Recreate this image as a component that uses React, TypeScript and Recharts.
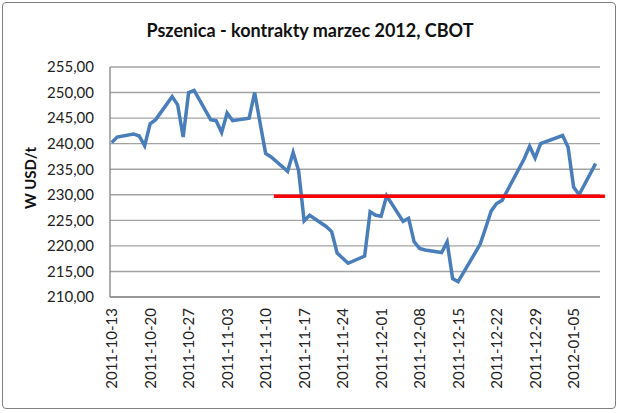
import { LineChart, Line, XAxis, YAxis, CartesianGrid, ReferenceLine } from "recharts";

// trading days and settlement prices, USD/t
const dates = [
  "2011-10-13", "2011-10-14", "2011-10-17", "2011-10-18", "2011-10-19", "2011-10-20", "2011-10-21",
  "2011-10-24", "2011-10-25", "2011-10-26", "2011-10-27", "2011-10-28", "2011-10-31",
  "2011-11-01", "2011-11-02", "2011-11-03", "2011-11-04", "2011-11-07", "2011-11-08", "2011-11-09",
  "2011-11-10", "2011-11-11", "2011-11-14", "2011-11-15", "2011-11-16", "2011-11-17", "2011-11-18",
  "2011-11-21", "2011-11-22", "2011-11-23", "2011-11-25", "2011-11-28", "2011-11-29", "2011-11-30",
  "2011-12-01", "2011-12-02", "2011-12-05", "2011-12-06", "2011-12-07", "2011-12-08", "2011-12-09",
  "2011-12-12", "2011-12-13", "2011-12-14", "2011-12-15", "2011-12-16", "2011-12-19", "2011-12-20",
  "2011-12-21", "2011-12-22", "2011-12-23", "2011-12-27", "2011-12-28", "2011-12-29", "2011-12-30",
  "2012-01-03", "2012-01-04", "2012-01-05", "2012-01-06", "2012-01-09",
];

const prices = [
  240.2, 241.3, 241.9, 241.5, 239.6, 243.9, 244.7,
  249.2, 247.6, 241.3, 250.0, 250.4, 244.7,
  244.5, 242.2, 246.0, 244.5, 245.0, 250.0, 244.0,
  238.1, 237.4, 234.6, 238.3, 234.7, 224.9, 226.0,
  223.8, 222.8, 218.6, 216.6, 218.0, 226.7, 226.0,
  225.8, 229.8, 224.8, 225.4, 220.8, 219.5, 219.2,
  218.7, 220.8, 213.6, 213.0, 214.8, 220.3, 223.5,
  226.8, 228.3, 228.9, 237.0, 239.5, 237.2, 240.0,
  241.6, 239.3, 231.5, 230.0, 236.1,
];

const tickDates = [
  "2011-10-13", "2011-10-20", "2011-10-27", "2011-11-03", "2011-11-10", "2011-11-17", "2011-11-24",
  "2011-12-01", "2011-12-08", "2011-12-15", "2011-12-22", "2011-12-29", "2012-01-05",
];

const yTicks = [210, 215, 220, 225, 230, 235, 240, 245, 250, 255];

// red average level, drawn from mid-November past the last date
const levelValue = 229.7;
const levelFrom = 29.5;
const levelTo = 89.7;

const DAY = 86400000;
const start = Date.parse(dates[0]);
const dayIndex = (s: string) => Math.round((Date.parse(s) - start) / DAY);

const data = dates.map((d, i) => ({ d: dayIndex(d), price: prices[i] }));
const xTicks = tickDates.map(dayIndex);
const labelOf = (d: number) => tickDates[xTicks.indexOf(d)] ?? "";

const font = "Lato, 'Open Sans', sans-serif";

function DateTick({ x, y, payload }: any) {
  return (
    <g transform={`translate(${x},${y + 2}) rotate(-90)`}>
      <text x={0} y={0} dy="0.36em" textAnchor="end" fill="#222" fontSize={15} fontFamily={font}>
        {labelOf(payload.value)}
      </text>
    </g>
  );
}

function UnitLabel({ viewBox }: any) {
  const cx = viewBox.x + 20;
  const cy = viewBox.y + viewBox.height / 2 - 4;
  return (
    <text
      x={cx}
      y={cy}
      transform={`rotate(-90, ${cx}, ${cy})`}
      textAnchor="middle"
      dominantBaseline="central"
      fontSize={15}
      fontWeight={700}
      fontFamily={font}
      fill="#111"
    >
      W USD/t
    </text>
  );
}

export default function App() {
  return (
    <div style={{ position: "absolute", left: 0, top: 0, width: 620, height: 413, background: "#fff" }}>
      <div
        style={{
          position: "absolute",
          left: 2,
          top: 2,
          width: 612,
          height: 405,
          border: "1px solid #808080",
          borderRadius: 4,
        }}
      />
      <div
        style={{
          position: "absolute",
          left: 0,
          top: 19,
          width: 620,
          textAlign: "center",
          fontFamily: font,
          fontWeight: 700,
          fontSize: 18,
          lineHeight: "22px",
          color: "#111",
        }}
      >
        Pszenica - kontrakty marzec 2012, CBOT
      </div>
      <LineChart
        width={620}
        height={413}
        data={data}
        margin={{ top: 67, right: 20, bottom: 16, left: 10 }}
        style={{ position: "absolute", left: 0, top: 0 }}
      >
        <CartesianGrid vertical={false} stroke="#a3a3a3" strokeWidth={1.4} />
        <XAxis
          dataKey="d"
          type="number"
          domain={[-0.3, 88.8]}
          allowDataOverflow
          ticks={xTicks}
          interval={0}
          height={100}
          tickLine={false}
          tickSize={6}
          tickMargin={3}
          axisLine={{ stroke: "#8c8c8c", strokeWidth: 1.4 }}
          tick={<DateTick />}
        />
        <YAxis
          type="number"
          domain={[210, 255]}
          ticks={yTicks}
          interval={0}
          width={100}
          tickLine={false}
          tickMargin={10}
          axisLine={{ stroke: "#8c8c8c", strokeWidth: 1.4 }}
          tick={{ fill: "#222", fontSize: 15, fontFamily: font }}
          tickFormatter={(v: number) => v.toFixed(2).replace(".", ",")}
          label={<UnitLabel />}
        />
        <Line
          type="linear"
          dataKey="price"
          stroke="#4a7ebb"
          strokeWidth={3.5}
          dot={false}
          isAnimationActive={false}
        />
        <ReferenceLine
          segment={[
            { x: levelFrom, y: levelValue },
            { x: levelTo, y: levelValue },
          ]}
          ifOverflow="visible"
          stroke="#ff0000"
          strokeWidth={3.5}
        />
      </LineChart>
    </div>
  );
}
